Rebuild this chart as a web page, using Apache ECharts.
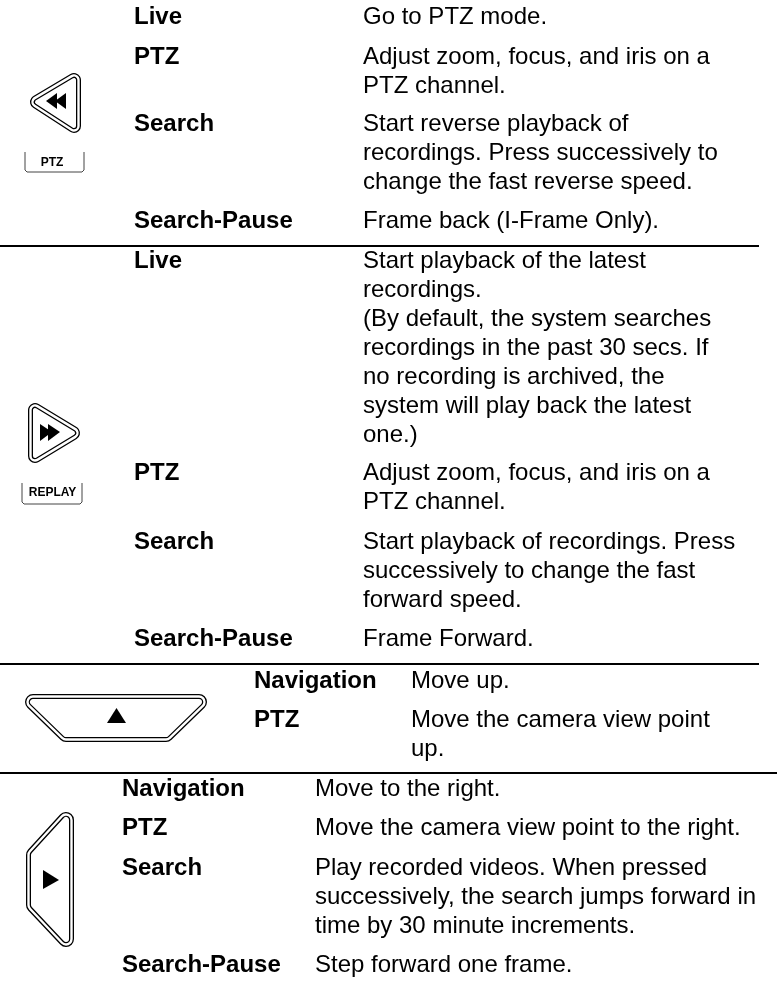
<!DOCTYPE html>
<html><head><meta charset="utf-8">
<style>html,body{margin:0;padding:0;background:#fff}#c{width:777px;height:986px}</style>
<script src="https://cdn.jsdelivr.net/npm/echarts@6/dist/echarts.min.js"></script>
</head><body><div id="c"></div>
<script>
const labels1 = ['Live','PTZ','Search','Search-Pause'];
const desc1 = [['Go to PTZ mode.'],['Adjust zoom, focus, and iris on a','PTZ channel.'],['Start reverse playback of','recordings. Press successively to','change the fast reverse speed.'],['Frame back (I-Frame Only).']];
const labels2 = ['Live','PTZ','Search','Search-Pause'];
const desc2 = [['Start playback of the latest','recordings.','(By default, the system searches','recordings in the past 30 secs. If','no recording is archived, the','system will play back the latest','one.)'],['Adjust zoom, focus, and iris on a','PTZ channel.'],['Start playback of recordings. Press','successively to change the fast','forward speed.'],['Frame Forward.']];
const labels3 = ['Navigation','PTZ'];
const desc3 = [['Move up.'],['Move the camera view point','up.']];
const labels4 = ['Navigation','PTZ','Search','Search-Pause'];
const desc4 = [['Move to the right.'],['Move the camera view point to the right.'],['Play recorded videos. When pressed','successively, the search jumps forward in','time by 30 minute increments.'],['Step forward one frame.']];
const keyCaps = ['PTZ','REPLAY'];

const LINE = 29, FONT = 24;
const blocks = [
  {labels:labels1, desc:desc1, lx:134, dx:363, ys:[17,57,124,221]},
  {labels:labels2, desc:desc2, lx:134, dx:363, ys:[261,473,542,639]},
  {labels:labels3, desc:desc3, lx:254, dx:411, ys:[681,720]},
  {labels:labels4, desc:desc4, lx:122, dx:315, ys:[789,828,868,965]}
];
const rules = [[0,759,246],[0,759,664],[0,777,773]];

const g = [];
const family = '"Liberation Sans", Arial, sans-serif';
function txt(s,x,y,bold,size,align){
  g.push({type:'text',silent:true,style:{text:s,x,y,fill:'#000',font:(bold?'bold ':'')+size+'px '+family,textAlign:align||'left',textVerticalAlign:'middle'}});
}
blocks.forEach(b=>{
  b.labels.forEach((l,i)=>{
    txt(l,b.lx,b.ys[i],true,FONT);
    b.desc[i].forEach((d,j)=>txt(d,b.dx,b.ys[i]+j*LINE,false,FONT));
  });
});
rules.forEach(r=>g.push({type:'line',silent:true,shape:{x1:r[0],y1:r[2],x2:r[1],y2:r[2]},style:{stroke:'#000',lineWidth:2}}));

function key(points,R){
  [[2*R,'#000'],[2*R-2.6,'#fff'],[2*R-7.4,'#000'],[2*R-10,'#fff']].forEach(([w,c])=>{
    g.push({type:'polygon',silent:true,shape:{points},style:{fill:c,stroke:c,lineWidth:w,lineJoin:'round'}});
  });
}
function tri(points){g.push({type:'polygon',silent:true,shape:{points},style:{fill:'#000'}});}
function cap(l,r,t,b,s,tx,ty){
  g.push({type:'polyline',silent:true,shape:{points:[[l,t],[l,b-2],[l+2,b],[r-2,b],[r,b-2],[r,t]]},style:{stroke:'#444',lineWidth:1,fill:null}});
  txt(s,tx,ty,true,12,'center');
}
key([[37,102],[74,80],[74,126]],7);
tri([[46,101],[57,93],[57,109]]);tri([[55,101],[66,93],[66,109]]);
cap(25,84,152,172,keyCaps[0],52,163);
key([[35,410],[35,456],[73,433]],7);
tri([[40,424],[52,432],[40,441]]);tri([[48,424],[60,432],[48,441]]);
cap(22,82,483,504,keyCaps[1],52.5,493);
key([[33,702],[199,702],[166,734],[66,734]],8);
tri([[107,723],[126,723],[116.5,708]]);
key([[66,820],[66,939],[34,905],[34,855]],8);
tri([[43,870],[59,880],[43,889]]);

const chart = echarts.init(document.getElementById('c'),null,{renderer:'canvas'});
chart.setOption({animation:false,backgroundColor:'#fff',graphic:{elements:g}});
</script></body></html>
